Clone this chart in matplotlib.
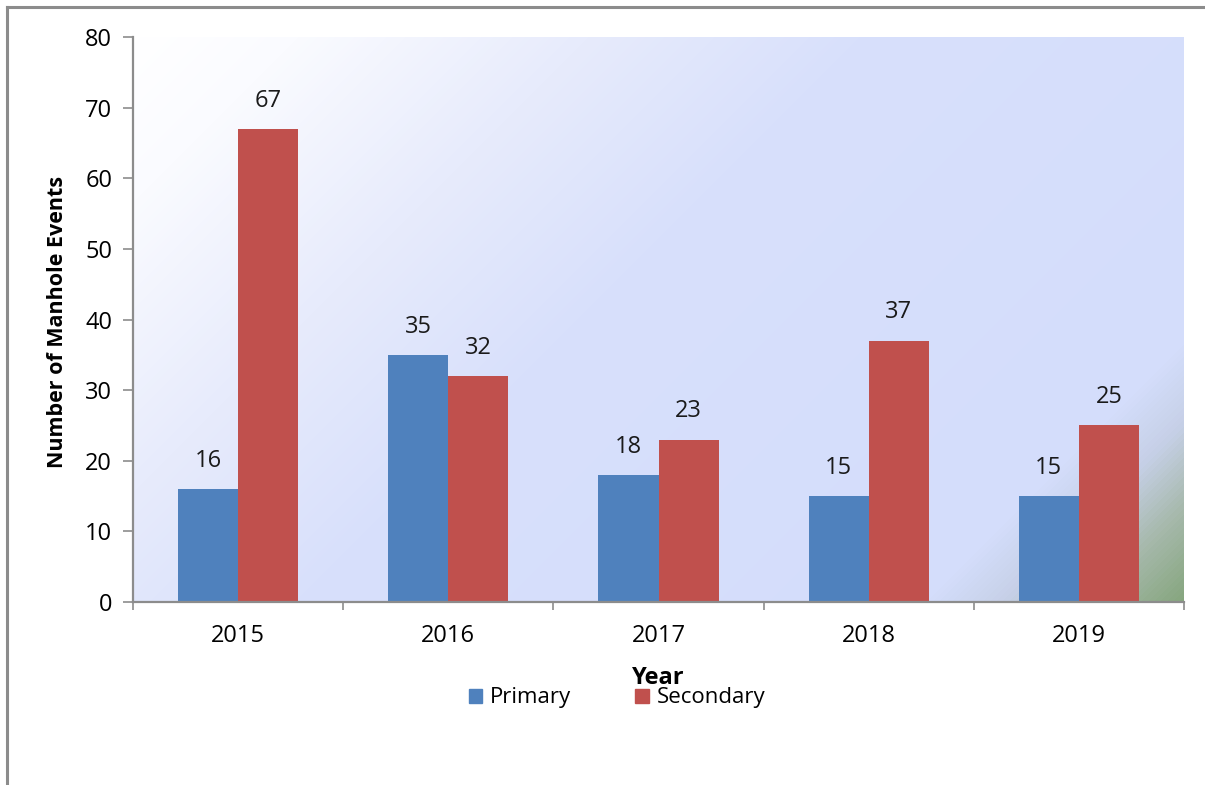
import numpy as np
import matplotlib
matplotlib.use("Agg")
import matplotlib.pyplot as plt
from matplotlib.colors import LinearSegmentedColormap
from matplotlib.lines import Line2D
from matplotlib.patches import Patch

years = ["2015", "2016", "2017", "2018", "2019"]
primary = [16, 35, 18, 15, 15]
secondary = [67, 32, 23, 37, 25]

BLUE = "#4f81bd"
RED = "#c0504d"

plt.rcParams["font.family"] = ["Open Sans", "DejaVu Sans"]

W, H = 1205, 785
fig = plt.figure(figsize=(W / 100, H / 100), dpi=100)
fig.patch.set_facecolor("white")

# outer chart frame (left and top edges)
fig.add_artist(Line2D([7 / W, 7 / W], [0, 1 - 7 / H], color="#8c8c8c", lw=2.2))
fig.add_artist(Line2D([7 / W, 1], [1 - 7 / H, 1 - 7 / H], color="#8c8c8c", lw=2.2))

ax_l, ax_r, ax_t, ax_b = 133, 1184, 37, 602
ax = fig.add_axes([ax_l / W, 1 - ax_b / H, (ax_r - ax_l) / W, (ax_b - ax_t) / H])

# diagonal gradient fill of the plot area
pw, ph = ax_r - ax_l, ax_b - ax_t
xx, yy = np.meshgrid(np.arange(pw), np.arange(ph))
s = (xx + yy) / float(pw + ph)
grad = LinearSegmentedColormap.from_list(
    "bg",
    [(0.0, "#ffffff"), (0.10, "#fafbff"), (0.28, "#e7ebfc"), (0.45, "#d8e0fb"),
     (0.84, "#d4ddfb"), (0.89, "#c6d0e7"), (0.94, "#a8baae"), (1.0, "#86a67e")],
)
ax.imshow(grad(s), extent=(-0.5, len(years) - 0.5, 0, 80), aspect="auto",
          zorder=0, interpolation="bilinear")

x = np.arange(len(years))
bw = 60 / 210
b1 = ax.bar(x - bw / 2, primary, bw, color=BLUE, zorder=2, label="Primary")
b2 = ax.bar(x + bw / 2, secondary, bw, color=RED, zorder=2, label="Secondary")

for bars, vals in ((b1, primary), (b2, secondary)):
    for rect, v in zip(bars, vals):
        ax.text(rect.get_x() + rect.get_width() / 2, v + 4.0, f"{v}",
                ha="center", va="center", fontsize=17, color="#1a1a1a")

ax.set_xlim(-0.5, len(years) - 0.5)
ax.set_ylim(0, 80)
ax.set_yticks(range(0, 81, 10))
ax.set_xticks(np.arange(-0.5, len(years), 1.0))
ax.set_xticklabels([])
ax.set_xticks(x, minor=True)
ax.set_xticklabels(years, minor=True)
ax.tick_params(axis="x", which="minor", length=0, pad=16, labelsize=17)
ax.tick_params(axis="x", which="major", length=6, width=1.2, color="#8c8c8c", direction="out")
ax.tick_params(axis="y", length=7, width=1.2, color="#8c8c8c", direction="out",
               labelsize=17, pad=8)

for side in ("top", "right"):
    ax.spines[side].set_visible(False)
for side in ("left", "bottom"):
    ax.spines[side].set_color("#8c8c8c")
    ax.spines[side].set_linewidth(1.6)

fig.text(58 / W, 1 - 322 / H, "Number of Manhole Events", rotation=90,
         ha="center", va="center", fontsize=15.5, fontweight="bold")
fig.text(658 / W, 1 - 678 / H, "Year", ha="center", va="center",
         fontsize=17, fontweight="bold")

handles = [Patch(color=BLUE, label="Primary"), Patch(color=RED, label="Secondary")]
fig.legend(handles=handles, loc="center", bbox_to_anchor=(617 / W, 1 - 698 / H),
           ncol=2, frameon=False, fontsize=16, handlelength=0.6, handleheight=0.6,
           handletextpad=0.35, columnspacing=2.9, borderpad=0)

fig.savefig("out.png", dpi=100, facecolor="white")
